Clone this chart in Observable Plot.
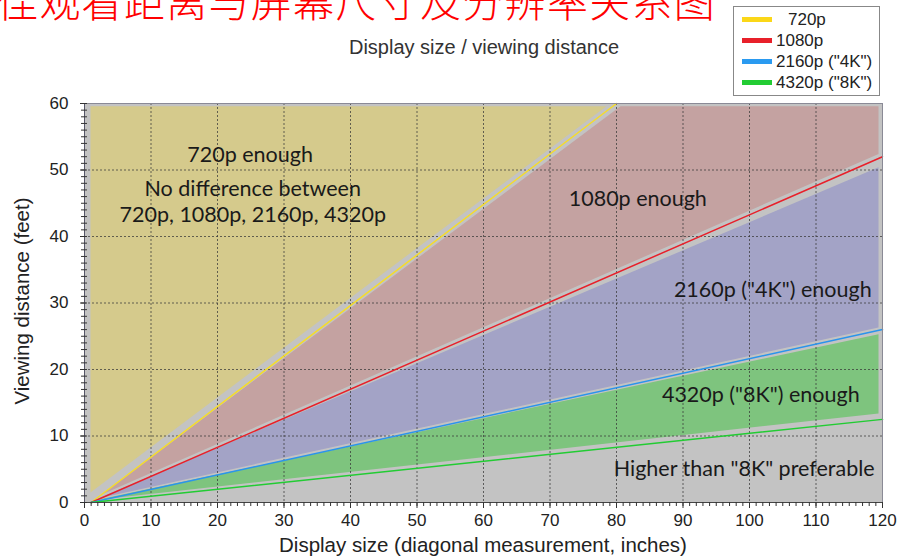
<!DOCTYPE html>
<html><head><meta charset="utf-8">
<script src="https://cdn.jsdelivr.net/npm/d3@7"></script>
<script src="https://cdn.jsdelivr.net/npm/@observablehq/plot@0.6"></script>
<style>
body{margin:0;background:#fff;overflow:hidden}
#wrap{position:relative;width:899px;height:558px;font-family:"Liberation Sans",Arial,sans-serif}
#wrap svg{position:absolute;left:0;top:0}
.ov{position:absolute;white-space:nowrap}
#cn{left:-3px;top:-21px;font-family:"Noto Sans CJK SC";font-weight:300;font-size:41px;line-height:41px;color:#ff0000;letter-spacing:1.3px}
#sub{left:0;width:968px;text-align:center;top:36px;font-size:20px;color:#333}
#xl{left:0;width:966px;text-align:center;top:533px;font-size:20.5px;color:#222}
#yl{left:22px;top:301px;font-size:20.5px;color:#222;transform:translate(-50%,-50%) rotate(-90deg)}
#legend{left:733px;top:6px;width:145px;height:88px;border:1px solid #888;background:#fff}
.li{position:absolute;left:8px;height:20px;font-size:17px;color:#222;line-height:20px}
.sw{display:inline-block;width:30px;height:5px;vertical-align:middle;margin-right:5px;position:relative;top:-1px}
</style></head>
<body>
<div id="wrap">
<div class="ov" id="cn">佳观看距离与屏幕尺寸及分辨率关系图</div>
<div class="ov" id="sub">Display size / viewing distance</div>
<div class="ov" id="xl">Display size (diagonal measurement, inches)</div>
<div class="ov" id="yl">Viewing distance (feet)</div>
<div class="ov" id="legend"></div>
</div>
<script>
// Legend / series
const resolutions = ["720p", "1080p", "2160p (\"4K\")", "4320p (\"8K\")"];
const lineColors = ["#f5dc2a", "#e8202a", "#2a94ec", "#22cc33"];
const legendColors = ["#fbd718", "#e8202a", "#2a9af0", "#22cc33"];
const legendPad = [12, 0, 0, 0];

// Boundary lines (display size in inches, viewing distance in feet)
const line720 = [{x: 1, y: 0}, {x: 80, y: 60}];
const line1080 = [{x: 1, y: 0}, {x: 120, y: 52}];
const line2160 = [{x: 1, y: 0}, {x: 120, y: 26}];
const line4320 = [{x: 1, y: 0}, {x: 120, y: 12.5}];
const boundaryLines = [line720, line1080, line2160, line4320];

// Shaded region outlines
const region720 = [{x: 0.9, y: 1.5}, {x: 0.9, y: 59.6}, {x: 78.5, y: 59.6}];
const region1080 = [{x: 2.6, y: 1.2}, {x: 80.6, y: 59.6}, {x: 119.4, y: 59.6}, {x: 119.4, y: 52.4}];
const region2160 = [{x: 2, y: 0.6}, {x: 119.4, y: 50.4}, {x: 119.4, y: 26.3}];
const region4320 = [{x: 2, y: 0.4}, {x: 119.4, y: 25.3}, {x: 119.4, y: 13.4}];
const regions = [region720, region1080, region2160, region4320];
const regionColors = ["#d5ca8c", "#c4a2a1", "#a3a3c6", "#7ec47e"];
const backgroundColor = "#c3c3c3";

// Annotations
const labels = [
  {x: 24.9, y: 52.3, text: "720p enough"},
  {x: 25.3, y: 47.2, text: "No difference between"},
  {x: 25.3, y: 43.2, text: "720p, 1080p, 2160p, 4320p"},
  {x: 83.2, y: 45.6, text: "1080p enough"},
  {x: 103.5, y: 32.0, text: "2160p (\"4K\") enough"},
  {x: 101.7, y: 16.1, text: "4320p (\"8K\") enough"},
  {x: 99.2, y: 5.0, text: "Higher than \"8K\" preferable"}
];

// Ticks
const xTicks = [0, 10, 20, 30, 40, 50, 60, 70, 80, 90, 100, 110, 120];
const yTicks = [0, 10, 20, 30, 40, 50, 60];
const xMinor = d3.range(0, 121, 1);
const yMinor = d3.range(0, 61, 1);

const marks = [Plot.frame({fill: backgroundColor, stroke: null})];
regions.forEach((r, i) => marks.push(Plot.line(r, {x: "x", y: "y", fill: regionColors[i], stroke: null})));
marks.push(
  Plot.gridX(xTicks.slice(1, -1), {stroke: "#3a3a3a", strokeOpacity: 0.75, strokeDasharray: "2,2", strokeWidth: 1}),
  Plot.gridY(yTicks.slice(1, -1), {stroke: "#3a3a3a", strokeOpacity: 0.75, strokeDasharray: "2,2", strokeWidth: 1})
);
boundaryLines.forEach((l, i) => marks.push(Plot.line(l, {x: "x", y: "y", stroke: lineColors[i], strokeWidth: 1.5})));
marks.push(
  Plot.text(labels, {x: "x", y: "y", text: "text", fontFamily: "Lato", fontSize: 21.5, fill: "#1a1a1a"}),
  Plot.frame({stroke: "#8a8a96", strokeWidth: 1}),
  Plot.ruleY([0], {stroke: "#444"}),
  Plot.ruleX([0], {stroke: "#556"}),
  Plot.axisX(xMinor, {tickSize: 4, tickFormat: () => "", stroke: "#333", label: null}),
  Plot.axisX(xTicks, {tickSize: 6, tickPadding: 5, fontSize: 17, fill: "#222", stroke: "#333", label: null}),
  Plot.axisY(yMinor, {tickSize: 3, tickFormat: () => "", stroke: "#333", label: null}),
  Plot.axisY(yMinor, {tickSize: -3, tickFormat: () => "", stroke: "#333", label: null}),
  Plot.axisY(yTicks, {tickSize: 4, tickPadding: 12, fontSize: 17, fill: "#222", stroke: "#333", label: null})
);

const chart = Plot.plot({
  width: 899, height: 558,
  marginLeft: 84, marginRight: 17, marginTop: 103, marginBottom: 56,
  style: {fontFamily: "Liberation Sans, Arial, sans-serif", fontSize: "16px", background: "transparent"},
  x: {domain: [0, 120], axis: null},
  y: {domain: [0, 60], axis: null},
  marks
});
const wrap = document.getElementById("wrap");
wrap.insertBefore(chart, wrap.firstChild);

const lg = document.getElementById("legend");
resolutions.forEach((r, i) => {
  const d = document.createElement("div");
  d.className = "li";
  d.style.top = (3 + i * 21) + "px";
  const s = document.createElement("span");
  s.className = "sw";
  s.style.background = legendColors[i];
  s.style.marginRight = (4 + legendPad[i]) + "px";
  d.appendChild(s);
  d.appendChild(document.createTextNode(r));
  lg.appendChild(d);
});
</script>
</body></html>
